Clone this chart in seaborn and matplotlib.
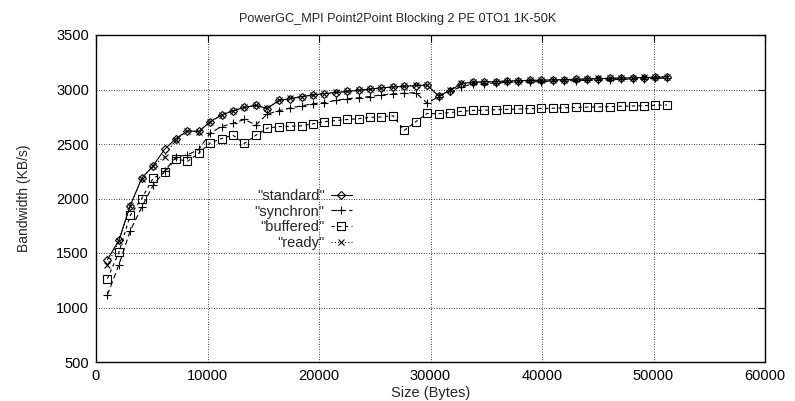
import matplotlib
matplotlib.use("Agg")
import matplotlib.pyplot as plt
import seaborn as sns
import numpy as np
import pandas as pd

# ---- data ----
sizes = [1024 * k for k in range(1, 51)]

standard = [1440, 1615, 1935, 2185, 2300, 2450, 2550, 2620, 2615, 2705,
            2765, 2805, 2835, 2855, 2825, 2900, 2915, 2935, 2950, 2962,
            2972, 2982, 2993, 3003, 3015, 3022, 3030, 3035, 3042, 2940,
            2990, 3055, 3065, 3070, 3072, 3078, 3080, 3083, 3085, 3088,
            3090, 3094, 3097, 3100, 3102, 3105, 3107, 3110, 3112, 3117]

synchron = [1115, 1390, 1705, 1920, 2120, 2250, 2380, 2400, 2450, 2600,
            2660, 2690, 2725, 2675, 2775, 2805, 2830, 2850, 2870, 2880,
            2900, 2915, 2925, 2935, 2950, 2960, 2965, 2972, 2875, 2935,
            2985, 3025, 3050, 3055, 3060, 3065, 3068, 3070, 3073, 3076,
            3079, 3082, 3085, 3088, 3090, 3093, 3096, 3098, 3101, 3105]

buffered = [1265, 1505, 1845, 2000, 2185, 2240, 2365, 2340, 2415, 2510,
            2550, 2580, 2505, 2580, 2645, 2660, 2662, 2668, 2685, 2705,
            2715, 2725, 2732, 2745, 2748, 2760, 2625, 2705, 2780, 2778,
            2788, 2800, 2808, 2810, 2815, 2818, 2820, 2825, 2826, 2828,
            2832, 2835, 2838, 2840, 2843, 2846, 2849, 2852, 2855, 2858]

ready = [1390, 1610, 1930, 2180, 2300, 2385, 2540, 2620, 2612, 2705,
         2768, 2805, 2838, 2855, 2828, 2900, 2918, 2935, 2952, 2962,
         2975, 2982, 2995, 3003, 3015, 3025, 3030, 3038, 3042, 2938,
         2992, 3057, 3065, 3072, 3072, 3080, 3080, 3085, 3085, 3090,
         3090, 3095, 3097, 3102, 3102, 3107, 3107, 3112, 3112, 3118]

series_names = ['"standard"', '"synchron"', '"buffered"', '"ready"']
series_values = [standard, synchron, buffered, ready]

title = "PowerGC_MPI Point2Point Blocking 2 PE 0TO1 1K-50K"
xlabel = "Size (Bytes)"
ylabel = "Bandwidth (KB/s)"
xticks = [0, 10000, 20000, 30000, 40000, 50000, 60000]
yticks = [500, 1000, 1500, 2000, 2500, 3000, 3500]

# ---- styling ----
sns.set_style("white")
plt.rcParams['font.family'] = ['Liberation Sans', 'DejaVu Sans']

fig = plt.figure(figsize=(7.95, 4.01), dpi=100)
ax = fig.add_axes([96 / 795, 1 - 362 / 401, 669 / 795, 327 / 401])

styles = [
    dict(marker='D', markersize=4.0, linestyle='-', markeredgewidth=0.8),
    dict(marker='+', markersize=6.0, linestyle=(0, (5, 3)), markeredgewidth=0.8),
    dict(marker='s', markersize=5.8, linestyle=(0, (3, 3)), markeredgewidth=0.8),
    dict(marker='x', markersize=4.6, linestyle=(0, (1, 2)), markeredgewidth=0.8),
]

for name, vals, st in zip(series_names, series_values, styles):
    df = pd.DataFrame({"size": sizes, "bw": vals})
    sns.lineplot(data=df, x="size", y="bw", ax=ax, color="black",
                 linewidth=0.8, markerfacecolor="none", markeredgecolor="black",
                 label=name, estimator=None, sort=False, **st)

ax.set_xlim(0, 60000)
ax.set_ylim(500, 3500)
ax.set_xticks(xticks)
ax.set_yticks(yticks)
ax.set_xticklabels([str(t) for t in xticks])
ax.set_yticklabels([str(t) for t in yticks])
ax.tick_params(direction='in', top=True, right=True, length=5, width=0.8,
               labelsize=10.5, pad=5, colors='black')
ax.grid(True, color='black', linestyle=(0, (1, 2)), linewidth=0.6)
for s in ax.spines.values():
    s.set_color('black')
    s.set_linewidth(1.0)

ax.set_title(title, fontsize=9.2, pad=9.5, x=(397.5 - 96) / 669)
ax.set_xlabel(xlabel, fontsize=10.5, labelpad=2)
ax.set_ylabel(ylabel, fontsize=10, labelpad=18)

leg = ax.legend(loc='center right', bbox_to_anchor=(0.392, 0.436),
                frameon=False, markerfirst=False, fontsize=10.5,
                handlelength=1.5, handletextpad=0.4, labelspacing=0.12,
                borderaxespad=0)

fig.savefig("out.png", dpi=100)
